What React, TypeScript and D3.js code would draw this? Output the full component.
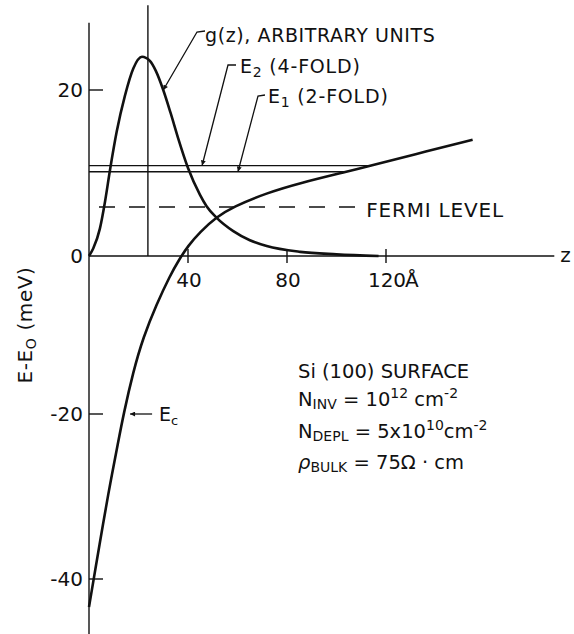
import React from 'react';
import * as d3 from 'd3';

// g(z) envelope (arbitrary units, drawn on the meV scale)
const gZ = [0, 1.7, 4.4, 6.5, 8.5, 11.2, 14.5, 17.9, 21.4, 24.6, 27, 30, 33, 36, 40, 44.8, 47.5, 51.6, 58.3, 65, 71.8, 85.3, 100, 117];
const gVal = [0, 0.9, 3.3, 6.6, 10.4, 15.0, 19.3, 22.6, 24, 23.5, 22.3, 20.0, 17.2, 14.2, 10.6, 7.4, 6.0, 4.6, 3.0, 1.9, 1.2, 0.5, 0.2, 0];

// conduction band edge Ec (meV)
const ecZ = [0, 2.4, 5.8, 8.5, 11.8, 13.9, 17.9, 21.9, 27.3, 32.7, 36.5, 40, 44.8, 51.6, 58, 71.8, 85.3, 104.6, 112.7, 131, 155];
const ecVal = [-43.4, -39.1, -33.1, -28.5, -23.4, -20.1, -14.6, -10.3, -6.1, -2.5, -0.4, 1.2, 2.9, 4.7, 5.9, 7.6, 8.8, 10.2, 10.8, 12.2, 14.0];

// subband levels and Fermi level (meV)
const levelNames = ['E2', 'E1'];
const levelValues = [10.9, 10.15];
const fermiLevel = 5.9;
const fermiEndZ = 110;
const zMean = 23.8;

const yTicks = [20, 0, -20, -40];
const xTicks = [40, 80, 120];

const FONT = '"DejaVu Sans", "Liberation Sans", sans-serif';

// where the Ec curve reaches a given energy
const crossZ = (level: number) => {
  for (let i = 1; i < ecZ.length; i++) {
    if (ecVal[i - 1] <= level && ecVal[i] >= level) {
      const t = (level - ecVal[i - 1]) / (ecVal[i] - ecVal[i - 1]);
      return ecZ[i - 1] + t * (ecZ[i] - ecZ[i - 1]);
    }
  }
  return ecZ[ecZ.length - 1];
};

export default function App() {
  const x = d3.scaleLinear().domain([0, 120]).range([89, 386]);
  const y = d3.scaleLinear().domain([-40, -20, 0, 20]).range([579, 414, 256, 90]);

  const gLine = d3.line<[number, number]>()
    .x(d => x(d[0]))
    .y(d => y(d[1]))
    .curve(d3.curveMonotoneX);
  const ecLine = d3.line<[number, number]>()
    .x(d => x(d[0]))
    .y(d => y(d[1]))
    .curve(d3.curveBasis);

  const gPath = gLine(gZ.map((z, i) => [z, gVal[i]]) as [number, number][]) || '';
  const ecPath = ecLine(ecZ.map((z, i) => [z, ecVal[i]]) as [number, number][]) || '';

  const x0 = x(0);
  const y0 = y(0);

  // leader tips (data coords)
  const gTip: [number, number] = [30, 20];
  const e2Tip: [number, number] = [45.7, levelValues[0]];
  const e1Tip: [number, number] = [60.2, levelValues[1]];
  const ecTip: [number, number] = [16.6, -20];

  return (
    <div style={{ position: 'absolute', left: 0, top: 0 }}>
      <svg width={574} height={634} style={{ display: 'block', background: '#fff' }} fontFamily={FONT} fill="#111">
        <defs>
          <marker id="arr" viewBox="0 0 10 10" refX={10} refY={5} markerWidth={11} markerHeight={5}
            markerUnits="userSpaceOnUse" orient="auto">
            <path d="M0,0 L10,5 L0,10 z" fill="#111" />
          </marker>
        </defs>

        {/* axes */}
        <line x1={x0} x2={x0} y1={y(28.1)} y2={y(-46.8)} stroke="#111" strokeWidth={1.4} />
        <line x1={x0} x2={x(188)} y1={y0} y2={y0} stroke="#111" strokeWidth={1.4} />
        {yTicks.filter(t => t !== 0).map(t => (
          <line key={'yt' + t} x1={x0} x2={x0 + 14} y1={y(t)} y2={y(t)} stroke="#111" strokeWidth={1.4} />
        ))}
        {xTicks.map(t => (
          <line key={'xt' + t} x1={x(t)} x2={x(t)} y1={y0 - 7} y2={y0 + 7} stroke="#111" strokeWidth={1.4} />
        ))}
        {yTicks.map(t => (
          <text key={'yl' + t} x={x0 - 6} y={y(t) + 7} fontSize={20} textAnchor="end">{t}</text>
        ))}
        {xTicks.map(t => (
          <text key={'xl' + t} x={x(t) + 1} y={y0 + 31} fontSize={20} textAnchor="middle">{t}</text>
        ))}
        <text x={x(120) + 19} y={y0 + 31} fontSize={20}>Å</text>
        <text x={x(188) + 6} y={y0 + 6} fontSize={20}>z</text>

        <text transform={`translate(32,${325}) rotate(-90)`} fontSize={20} textAnchor="middle" letterSpacing={0.6}>
          E-E<tspan fontSize={14} dy={4}>O</tspan><tspan dy={-4}> (meV)</tspan>
        </text>

        {/* mean position line */}
        <line x1={x(zMean)} x2={x(zMean)} y1={y0} y2={y(30.2)} stroke="#111" strokeWidth={1.4} />

        {/* subband levels */}
        {levelValues.map((v, i) => (
          <line key={levelNames[i]} x1={x0} x2={x(crossZ(v))} y1={y(v)} y2={y(v)} stroke="#111" strokeWidth={1.3} />
        ))}

        {/* Fermi level */}
        <line x1={x0} x2={x(fermiEndZ)} y1={y(fermiLevel)} y2={y(fermiLevel)} stroke="#111" strokeWidth={1.5}
          strokeDasharray="16 14" strokeDashoffset={-10} />
        <text x={x(fermiEndZ) + 5} y={y(fermiLevel) + 10} fontSize={20} letterSpacing={0.8}>FERMI LEVEL</text>

        {/* curves */}
        <path d={gPath} fill="none" stroke="#111" strokeWidth={2.6} />
        <path d={ecPath} fill="none" stroke="#111" strokeWidth={2.6} />

        {/* leaders */}
        <path d={`M205,31 L197,32 L${x(gTip[0])},${y(gTip[1])}`} fill="none" stroke="#111" strokeWidth={1.3} markerEnd="url(#arr)" />
        <text x={205} y={42} fontSize={19} letterSpacing={0.6}>g(z), ARBITRARY UNITS</text>

        <path d={`M236,65 L228,65 L${x(e2Tip[0])},${y(e2Tip[1])}`} fill="none" stroke="#111" strokeWidth={1.3} markerEnd="url(#arr)" />
        <text x={240} y={73} fontSize={19} letterSpacing={0.8}>
          E<tspan fontSize={14} dy={4}>2</tspan><tspan dy={-4}> (4-FOLD)</tspan>
        </text>

        <path d={`M265,95 L258,96 L${x(e1Tip[0])},${y(e1Tip[1])}`} fill="none" stroke="#111" strokeWidth={1.3} markerEnd="url(#arr)" />
        <text x={268} y={103} fontSize={19} letterSpacing={0.8}>
          E<tspan fontSize={14} dy={4}>1</tspan><tspan dy={-4}> (2-FOLD)</tspan>
        </text>

        <line x1={x(ecTip[0]) + 22} x2={x(ecTip[0])} y1={y(ecTip[1])} y2={y(ecTip[1])} stroke="#111" strokeWidth={1.3} markerEnd="url(#arr)" />
        <text x={159} y={421} fontSize={19}>
          E<tspan fontSize={13} dy={4}>c</tspan>
        </text>

        {/* parameter block */}
        <g fontSize={19.5}>
          <text x={298} y={378}>Si (100) SURFACE</text>
          <text x={298} y={406}>
            N<tspan fontSize={14} dy={3}>INV</tspan><tspan dy={-3}> = 10</tspan><tspan fontSize={14} dy={-8}>12</tspan><tspan dy={8}> cm</tspan><tspan fontSize={14} dy={-8}>-2</tspan>
          </text>
          <text x={298} y={438}>
            N<tspan fontSize={14} dy={3}>DEPL</tspan><tspan dy={-3}> = 5x10</tspan><tspan fontSize={14} dy={-8}>10</tspan><tspan dy={8}>cm</tspan><tspan fontSize={14} dy={-8}>-2</tspan>
          </text>
          <text x={298} y={469}>
            <tspan fontStyle="italic">ρ</tspan><tspan fontSize={14} dy={3}>BULK</tspan><tspan dy={-3}> = 75Ω · cm</tspan>
          </text>
        </g>
      </svg>
    </div>
  );
}
